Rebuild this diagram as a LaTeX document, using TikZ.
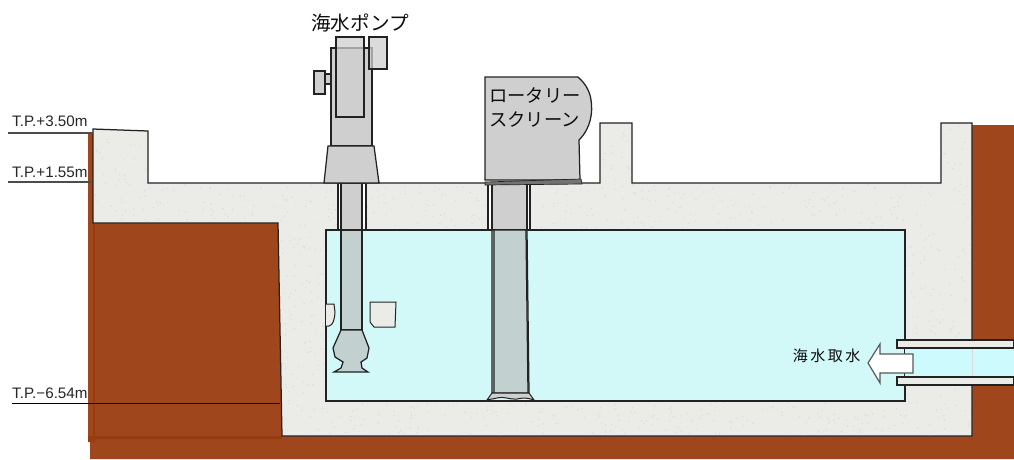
\documentclass[tikz,border=0pt]{standalone}
\usepackage{fontspec}
\setmainfont{Liberation Sans}
\newfontfamily\cjk{Noto Sans CJK JP}
\definecolor{soil}{HTML}{A0461C}
\definecolor{soildark}{HTML}{983C10}
\definecolor{conc}{HTML}{EBEBE8}
\definecolor{speck}{HTML}{DDDDD9}
\definecolor{water}{HTML}{D2F8F8}
\definecolor{pipew}{HTML}{CDFBFD}
\definecolor{mach}{HTML}{CFCFCF}
\definecolor{shaft}{HTML}{C2D0CF}
\definecolor{lineg}{HTML}{222222}
\tikzset{
  outl/.style={draw=lineg,line width=1.25pt,line join=miter},
  machine/.style={outl,fill=mach},
  glass/.style={outl,fill=mach,fill opacity=0.75},
  level/.style={draw=black!70,line width=1.2pt},
  lab/.style={inner sep=0pt,anchor=base west,font=\fontsize{15.2}{17}\selectfont,text=black!85},
  jp/.style={inner sep=0pt,align=left,text=black!95,font=\cjk\fontsize{#1}{#1}\selectfont},
}
\begin{document}
\begin{tikzpicture}[x=1pt,y=-1pt]
\useasboundingbox (0,0) rectangle (1014,459);
% soil
\fill[soil] (88,133) -- (94,133) -- (94,223) -- (278,223) -- (282,436) -- (972,436) -- (972,125) -- (1014,125) -- (1014,459) -- (90,459) -- (90,442) -- (88,442) -- cycle;
\fill[soildark] (93,223) rectangle (95,442);
\fill[soildark] (88,436) rectangle (282,439);
\fill[soildark] (88,439) rectangle (95,442);
% concrete
\path[outl,fill=conc] (93,129) -- (148,131) -- (148,183) -- (600,183) -- (600,123) -- (632,123) -- (632,183) -- (941,183) -- (941,123) -- (972,123) -- (972,436) -- (282,436) -- (278,223) -- (93,223) -- cycle;
\begin{scope}
\clip (94,130) -- (147,132) -- (147,184) -- (601,184) -- (601,124) -- (631,124) -- (631,184) -- (942,184) -- (942,124) -- (971,124) -- (971,435) -- (283,435) -- (279,222) -- (94,222) -- cycle;
\pgfmathsetseed{7}
\foreach \i in {1,...,2600}{
  \pgfmathsetmacro{\px}{90+rnd*885}
  \pgfmathsetmacro{\py}{124+rnd*312}
  \fill[speck] (\px,\py) circle[radius=0.8];
}
\end{scope}
% water basin
\path[outl,fill=water] (326,230) rectangle (905,401);
% intake pipe
\path[outl,fill=conc] (897,340) rectangle (1014,348);
\path[outl,fill=conc] (897,377) rectangle (1014,385);
\fill[pipew] (905,349) rectangle (1014,376.2);
\draw[black!15,line width=0.6pt] (972,349) -- (972,376);
\path[draw=black!65,line width=1.2pt,fill=white] (868,363) -- (880,344) -- (880,354) -- (913,354) -- (913,373) -- (880,373) -- (880,383) -- cycle;
% pump
\path[outl,fill=white] (338,183) rectangle (366,230);
\path[outl,fill=mach] (341,183) rectangle (362,230);
\path[outl,fill=shaft] (341,230) rectangle (362,330);
\path[outl,fill=shaft] (341,330) -- (362,330) -- (369,348) -- (367,358) -- (361,362) -- (362,368) -- (368,372) -- (334,372) -- (341,368) -- (343,362) -- (335,357) -- (333,348) -- cycle;
\path[machine] (331,48) rectangle (372,146);
\path[glass] (336,37) rectangle (364,117);
\path[glass] (369,37) rectangle (387,69);
\path[machine] (325,74) rectangle (331,84);
\path[machine] (314,71) rectangle (325,94);
\path[machine] (328,146) -- (374,146) -- (379,183) -- (324,183) -- cycle;
% wall openings
\path[draw=lineg,line width=1pt,fill=conc] (326,304) -- (334,304) -- (335,312) .. controls (334.5,320) and (333,325) .. (329,326) -- (326,326);
\path[draw=lineg,line width=1pt,fill=conc] (370,302) -- (396,302) -- (395,327) -- (374,327) -- (370,322) -- cycle;
% screen
\path[outl,fill=white] (488,183) rectangle (530,230);
\path[outl,fill=mach] (492,183) rectangle (527,230);
\path[outl,fill=mach!85!white] (492,230) -- (527,230) -- (529,393) -- (492,393) -- cycle;
\path[outl,fill=shaft] (494,230) -- (526,230) -- (528,393) -- (494,393) -- cycle;
\path[outl,fill=mach,line width=1pt] (492,393) -- (529,393) -- (534,400) .. controls (525,397) and (522,398) .. (517,399) .. controls (510,400) and (505,396) .. (497,398) .. controls (493,399) and (491,399) .. (487,400) -- cycle;
\path[machine] (485,77) -- (578,77) .. controls (586,84) and (590,92) .. (591,100) .. controls (593,112) and (591,128) .. (579,140) -- (580,180) -- (485,180) -- cycle;
\path[outl,fill=black!55,line width=0.7pt] (485,182) -- (581,179) -- (582,184) -- (485,185) -- cycle;
% level lines
\draw[level] (8,133) -- (93,133);
\draw[level] (8,182) -- (91,182);
\draw[black,line width=1pt] (12,403) -- (280,403);
% labels
\node[lab] (lv1) at (12,126) {T.P.+3.50m};
\node[lab] (lv2) at (12,177) {T.P.+1.55m};
\node[lab] (lv3) at (12,398) {T.P.−6.54m};
\node[jp=19.6] (pump) at (360,23) {海水ポンプ};
\node[jp=18.3,anchor=north west] (screen) at (489,87) {ロータリー\\[6pt]スクリーン};
\node[jp=15] (intake) at (826.5,356) {海\,水\,取\,水};
\end{tikzpicture}
\end{document}
